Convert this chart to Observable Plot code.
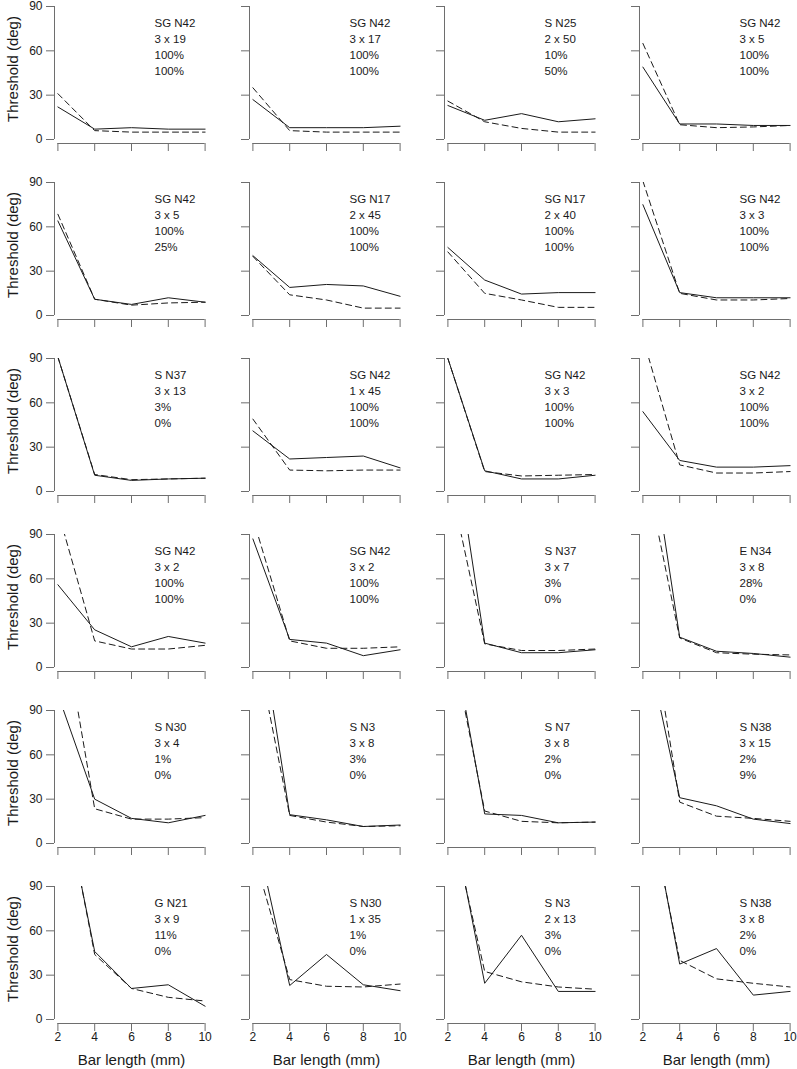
<!DOCTYPE html>
<html><head><meta charset="utf-8">
<script src="https://cdn.jsdelivr.net/npm/d3@7"></script>
<script src="https://cdn.jsdelivr.net/npm/@observablehq/plot@0.6"></script>
<style>html,body{margin:0;padding:0;background:#fff;}</style>
</head><body><div id="chart"></div>
<script>
// ---- data ----
const barLengths = [2, 4, 6, 8, 10];
const yTicks = [0, 30, 60, 90];
const xTitle = "Bar length (mm)";
const yTitle = "Threshold (deg)";
const nCols = 4;

const groups = ["SG N42","SG N42","S N25","SG N42",
                "SG N42","SG N17","SG N17","SG N42",
                "S N37","SG N42","SG N42","SG N42",
                "SG N42","SG N42","S N37","E N34",
                "S N30","S N3","S N7","S N38",
                "G N21","S N30","S N3","S N38"];
const sizes = ["3 x 19","3 x 17","2 x 50","3 x 5",
               "3 x 5","2 x 45","2 x 40","3 x 3",
               "3 x 13","1 x 45","3 x 3","3 x 2",
               "3 x 2","3 x 2","3 x 7","3 x 8",
               "3 x 4","3 x 8","3 x 8","3 x 15",
               "3 x 9","1 x 35","2 x 13","3 x 8"];
const pctA = ["100%","100%","10%","100%",
              "100%","100%","100%","100%",
              "3%","100%","100%","100%",
              "100%","100%","3%","28%",
              "1%","3%","2%","2%",
              "11%","1%","3%","2%"];
const pctB = ["100%","100%","50%","100%",
              "25%","100%","100%","100%",
              "0%","100%","100%","100%",
              "100%","100%","0%","0%",
              "0%","0%","0%","9%",
              "0%","0%","0%","0%"];

const solid = [
  [22, 7, 8, 7, 7],
  [27, 8, 8, 8, 9],
  [23, 13, 17.5, 12, 14],
  [49, 10.5, 10.5, 9.5, 9.5],
  [64, 11, 7.5, 12, 9],
  [40.5, 19, 21, 20, 13],
  [46, 24, 14.5, 15.5, 15.5],
  [75, 15.5, 12, 12, 12],
  [91, 11, 7.5, 8.5, 9],
  [41, 22, 23, 24, 16],
  [90, 14, 8.5, 8.5, 11],
  [54, 21, 16.5, 16.5, 17.5],
  [56, 25.5, 14, 21, 16.5],
  [87, 19, 16.5, 8, 12],
  [181, 16.5, 10, 10, 12],
  [184, 20.5, 11, 9.5, 7],
  [101, 30, 17, 14, 19],
  [178, 19.5, 16, 11.5, 12.5],
  [157, 20, 19, 14, 14.5],
  [146, 31, 25.5, 16.5, 13.5],
  [170, 46, 21, 23.5, 9],
  [135, 23, 44, 23.5, 19.5],
  [151, 24.5, 57, 19, 19],
  [169, 37.5, 48, 16.5, 19]
];
const dashed = [
  [31, 6, 5, 5, 5],
  [35, 6, 5, 5, 5],
  [26, 12, 7.5, 5, 5],
  [65, 10, 8, 8.5, 9.5],
  [68.5, 11, 7, 8.5, 9],
  [40, 14, 10.5, 5, 5],
  [43, 15, 10.5, 5.5, 5.5],
  [91, 15, 10.5, 10.5, 11.5],
  [91, 11.5, 8, 8.5, 9],
  [49, 14.5, 14, 14.5, 14.5],
  [90, 13.5, 10.5, 11, 11.5],
  [104, 18, 12.5, 12.5, 13.5],
  [106, 18, 12.5, 12.5, 15],
  [101, 18, 13, 13, 14],
  [132, 16, 11.5, 11.5, 12.5],
  [142, 20, 10, 9, 8.5],
  [169, 23.5, 16.5, 16.5, 17.5],
  [145, 19, 14.5, 11.5, 12],
  [149, 22, 15, 14, 14.5],
  [183, 28, 18.5, 17, 15],
  [173, 44, 21, 15, 12.5],
  [114, 27, 22.5, 22, 24],
  [143, 32.5, 25.5, 22, 20.5],
  [165, 40, 27.5, 24.5, 22]
];

// ---- derived tables ----
const panels = groups.map((g, i) => ({
  col: i % nCols,
  row: Math.floor(i / nCols),
  label: [g, sizes[i], pctA[i], pctB[i]].join("\n")
}));
const nRows = Math.ceil(groups.length / nCols);
const points = [];
panels.forEach((p, i) => {
  barLengths.forEach((x, j) => {
    points.push({col: p.col, row: p.row, x, y: solid[i][j], kind: "solid"});
    points.push({col: p.col, row: p.row, x, y: dashed[i][j], kind: "dashed"});
  });
});
const titleRows = d3.range(nRows).map(r => ({row: r, col: 0, title: yTitle}));
const titleCols = d3.range(nCols).map(c => ({row: nRows - 1, col: c, title: xTitle}));
const yMid = (yTicks[0] + yTicks[yTicks.length - 1]) / 2;
const xMid = (barLengths[0] + barLengths[barLengths.length - 1]) / 2;

const ink = "#1a1a1a";
const axisInk = "#6e6e6e";
const inset = 3.4;

const chart = Plot.plot({
  width: 797,
  height: 1069,
  marginLeft: 52,
  marginRight: 2.6,
  marginTop: 5,
  marginBottom: 44.2,
  fx: {axis: null, paddingInner: 0.209, paddingOuter: 0},
  fy: {axis: null, paddingInner: 0.222, paddingOuter: 0},
  x: {domain: [barLengths[0], barLengths[barLengths.length - 1]], axis: null, insetLeft: inset, insetRight: inset},
  y: {domain: [yTicks[0], yTicks[yTicks.length - 1]], axis: null, insetTop: 0, insetBottom: 4},
  style: {fontFamily: "'Liberation Sans', Arial, Helvetica, sans-serif", color: ink, background: "#fff"},
  marks: [
    // axis lines (R style: span first to last tick)
    Plot.ruleX([barLengths[0]], {y1: yTicks[0], y2: yTicks[yTicks.length - 1], dx: -inset, stroke: axisInk, strokeWidth: 1}),
    Plot.ruleY([yTicks[0]], {x1: barLengths[0], x2: barLengths[barLengths.length - 1], dy: 4, stroke: axisInk, strokeWidth: 1}),
    // ticks on every panel
    Plot.axisY({ticks: yTicks, facetAnchor: null, tickSize: 8, fill: null, label: null, stroke: axisInk}),
    Plot.axisX({ticks: barLengths, facetAnchor: null, tickSize: 8, fill: null, label: null, stroke: axisInk}),
    // tick labels on outer panels
    Plot.axisY({ticks: yTicks, facetAnchor: "left", tickSize: 0, tickPadding: 12, label: null, fontSize: 12, fill: ink}),
    Plot.axisX({ticks: barLengths, facetAnchor: "bottom", tickSize: 0, tickPadding: 9, label: null, fontSize: 12, fill: ink}),
    // data lines
    Plot.line(points.filter(d => d.kind === "dashed"), {x: "x", y: "y", fx: "col", fy: "row", stroke: ink, strokeWidth: 1, strokeDasharray: "6,4", clip: true}),
    Plot.line(points.filter(d => d.kind === "solid"), {x: "x", y: "y", fx: "col", fy: "row", stroke: ink, strokeWidth: 1, clip: true}),
    // panel annotations
    Plot.text(panels, {fx: "col", fy: "row", text: "label", frameAnchor: "top-left", textAnchor: "start", lineAnchor: "top", dx: 100, dy: 9, lineHeight: 1.39, fontSize: 11.5, fill: ink}),
    // axis titles
    Plot.text(titleRows, {fx: "col", fy: "row", y: () => yMid, text: "title", frameAnchor: "left", textAnchor: "middle", lineAnchor: "middle", rotate: -90, dx: -41, dy: -4, fontSize: 15, fill: ink}),
    Plot.text(titleCols, {fx: "col", fy: "row", x: () => xMid, text: "title", frameAnchor: "bottom", textAnchor: "middle", lineAnchor: "middle", dy: 37, fontSize: 15, fill: ink})
  ]
});
document.getElementById("chart").appendChild(chart);
</script>
</body></html>
